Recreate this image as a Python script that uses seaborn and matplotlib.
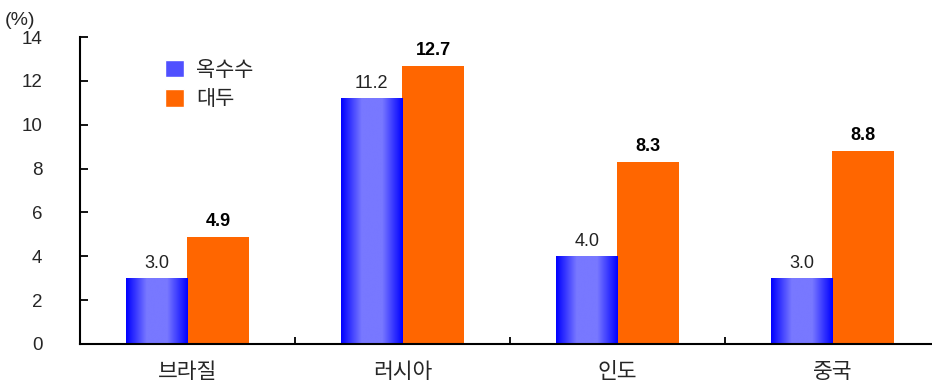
import numpy as np
import pandas as pd
import matplotlib
matplotlib.use("Agg")
import matplotlib.pyplot as plt
import seaborn as sns
from matplotlib.colors import LinearSegmentedColormap
from matplotlib.patches import Patch

categories = ["브라질", "러시아", "인도", "중국"]
series = ["옥수수", "대두"]
corn = [3.0, 11.2, 4.0, 3.0]
soy = [4.9, 12.7, 8.3, 8.8]
yticks = [0, 2, 4, 6, 8, 10, 12, 14]

df = pd.DataFrame({
    "country": categories * 2,
    "crop": [series[0]] * 4 + [series[1]] * 4,
    "value": corn + soy,
})

sns.set_theme(style="white")
plt.rcParams['font.family'] = ['Noto Sans CJK KR', 'DejaVu Sans']

fig = plt.figure(figsize=(9.32, 3.84), dpi=100)
ax = fig.add_axes([0.0858, 0.1042, 0.9227, 0.7994])

blue = "#1a1aff"
orange = "#ff6600"
sns.barplot(data=df, x="country", y="value", hue="crop", order=categories,
            hue_order=series, palette=[blue, orange], width=0.57,
            saturation=1, ax=ax, legend=False, edgecolor="none")

# gradient overlay on corn bars
cmap = LinearSegmentedColormap.from_list("g", ["#0000ff", "#7878ff", "#7878ff", "#0000ff"])
grad = np.linspace(0, 1, 256).reshape(1, -1)
corn_patches = ax.patches[:4]
for p in corn_patches:
    x0, y0 = p.get_x(), p.get_y()
    w, h = p.get_width(), p.get_height()
    im = ax.imshow(grad, cmap=cmap, aspect="auto", extent=[x0, x0 + w, y0, y0 + h],
                   zorder=p.get_zorder() + 0.1)
    im.set_clip_path(p)

ax.set_xlim(-0.5, 3.5)
ax.set_ylim(0, 14)
ax.set_yticks(yticks)
ax.set_yticklabels([str(v) for v in yticks], fontsize=13.5, family=['Liberation Sans'])
ax.set_xticks(range(4))
ax.set_xticklabels(categories, fontsize=15.5)
ax.set_xticks([0.5, 1.5, 2.5], minor=True)
ax.tick_params(axis="x", which="major", bottom=False, length=0, pad=12)
ax.tick_params(axis="x", which="minor", bottom=True, direction="in", length=5, width=1.3, color="black")
ax.tick_params(axis="y", left=True, direction="in", length=6, width=1.3, color="black", pad=27)
for lab in ax.get_yticklabels():
    lab.set_horizontalalignment("right")
ax.set_xlabel("")
ax.set_ylabel("")
sns.despine(ax=ax)
for s in ["left", "bottom"]:
    ax.spines[s].set_color("black")
    ax.spines[s].set_linewidth(1.5)

# value labels
for i, p in enumerate(ax.patches[:8]):
    v = p.get_height()
    xc = p.get_x() + p.get_width() / 2
    if i < 4:
        ax.text(xc, v + 0.3, f"{v:.1f}", ha="center", va="bottom", fontsize=13,
                family=['Liberation Sans'], color="#222222")
    else:
        ax.text(xc, v + 0.3, f"{v:.1f}", ha="center", va="bottom", fontsize=13,
                family=['Liberation Sans'], fontweight="bold", color="black")

fig.text(0.005, 0.935, "(%)", fontsize=14, family=['Liberation Sans'])

handles = [Patch(facecolor="#5050ff", label=series[0]), Patch(facecolor=orange, label=series[1])]
ax.legend(handles=handles, loc="upper left", bbox_to_anchor=(0.077, 0.99), frameon=False,
          fontsize=15, handlelength=0.9, handleheight=0.9, handletextpad=0.6, labelspacing=0.35)

fig.savefig("out.png", dpi=100)
